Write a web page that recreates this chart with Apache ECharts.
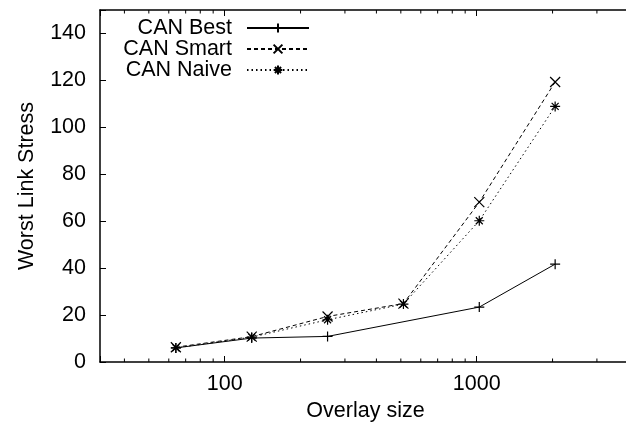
<!DOCTYPE html>
<html><head><meta charset="utf-8">
<script src="https://cdn.jsdelivr.net/npm/echarts@6/dist/echarts.min.js"></script>
<style>html,body{margin:0;padding:0;background:#fff;overflow:hidden}#c{width:634px;height:428px}</style>
</head><body><div id="c"></div>
<script>
const sizes = [64, 128, 256, 512, 1024, 2048];
const canBest = [6.0, 10.2, 10.9, null, 23.4, 41.7];
const canSmart = [6.3, 10.8, 19.4, 24.9, 68.1, 119.3];
const canNaive = [6.0, 10.6, 18.0, 24.7, 60.2, 108.9];
const seriesNames = ['CAN Best', 'CAN Smart', 'CAN Naive'];
const xMajorLabels = [100, 1000];
const xMinorTicks = [40, 50, 60, 70, 80, 90, 200, 300, 400, 500, 600, 700, 800, 900, 2000, 3000, 4000];
const yTicks = [0, 20, 40, 60, 80, 100, 120, 140];

const FONT = 'Liberation Sans, Arial, sans-serif';
const FS = 21.5;
const symPlus = 'path://M0,5L10,5M5,0L5,10';
const symCross = 'path://M0,0L10,10M10,0L0,10';
const symStar = 'path://M0,5L10,5M5,0L5,10M1.5,1.5L8.5,8.5M8.5,1.5L1.5,8.5';

function pairs(vals) { return sizes.map((s, i) => [s, vals[i]]); }

const chart = echarts.init(document.getElementById('c'), null, {renderer: 'canvas'});
const axisLine = {show: true, lineStyle: {color: '#000', width: 1.5}};
const legendBase = {
  orient: 'vertical', align: 'right', right: 324, padding: 0,
  itemWidth: 62, itemHeight: 11, itemGap: 0,
  textStyle: {fontSize: FS, fontFamily: FONT, color: '#000', padding: [0, 10, 0, 0]}
};
function lineSeries(name, vals, sym, type) {
  return {
    name, type: 'line', data: pairs(vals), connectNulls: true,
    symbol: sym, symbolSize: 10, showSymbol: true,
    lineStyle: {color: '#000', width: 1, type: type},
    itemStyle: {color: '#000', borderColor: '#000', borderWidth: 1.2},
    emphasis: {disabled: true}, animation: false
  };
}
chart.setOption({
  animation: false,
  grid: {left: 100, right: 1, top: 10, bottom: 66},
  legend: [
    Object.assign({}, legendBase, {data: [seriesNames[0]], top: 17}),
    Object.assign({}, legendBase, {data: [seriesNames[1]], top: 38}),
    Object.assign({}, legendBase, {data: [seriesNames[2]], top: 59})
  ],
  xAxis: [{
    type: 'log', logBase: 10, min: 32, max: 4096,
    name: 'Overlay size', nameLocation: 'middle', nameGap: 38,
    nameTextStyle: {fontSize: FS, fontFamily: FONT, color: '#000'},
    axisLine, splitLine: {show: false},
    axisTick: {inside: true, length: 6, lineStyle: {color: '#000', width: 1}},
    axisLabel: {fontSize: FS, fontFamily: FONT, color: '#000', margin: 11,
      formatter: v => { const r = Math.round(v); return xMajorLabels.includes(r) ? String(r) : ''; }}
  }, {
    type: 'log', logBase: 10, min: 32, max: 4096, position: 'top',
    axisLine, splitLine: {show: false},
    axisTick: {inside: true, length: 6, lineStyle: {color: '#000', width: 1}},
    axisLabel: {show: false}
  }],
  yAxis: {
    type: 'value', min: 0, max: 150, interval: 20,
    name: 'Worst Link Stress', nameLocation: 'middle', nameGap: 62,
    nameTextStyle: {fontSize: FS, fontFamily: FONT, color: '#000'},
    axisLine, splitLine: {show: false},
    axisTick: {inside: true, length: 6, lineStyle: {color: '#000', width: 1}},
    axisLabel: {fontSize: FS, fontFamily: FONT, color: '#000', margin: 14,
      formatter: v => yTicks.includes(v) ? String(v) : ''}
  },
  series: [
    lineSeries(seriesNames[0], canBest, symPlus, 'solid'),
    lineSeries(seriesNames[1], canSmart, symCross, [4, 3]),
    lineSeries(seriesNames[2], canNaive, symStar, [1.5, 3]),
    {
      type: 'custom', silent: true, animation: false,
      data: xMinorTicks.map(v => [v, 0]),
      renderItem(params, api) {
        const b = api.coord([api.value(0), 0]);
        const t = api.coord([api.value(0), 150]);
        return {type: 'group', children: [
          {type: 'line', shape: {x1: b[0], y1: b[1], x2: b[0], y2: b[1] - 3.5}, style: {stroke: '#000', lineWidth: 1}},
          {type: 'line', shape: {x1: t[0], y1: t[1], x2: t[0], y2: t[1] + 3.5}, style: {stroke: '#000', lineWidth: 1}}
        ]};
      }
    }
  ]
});
</script></body></html>
